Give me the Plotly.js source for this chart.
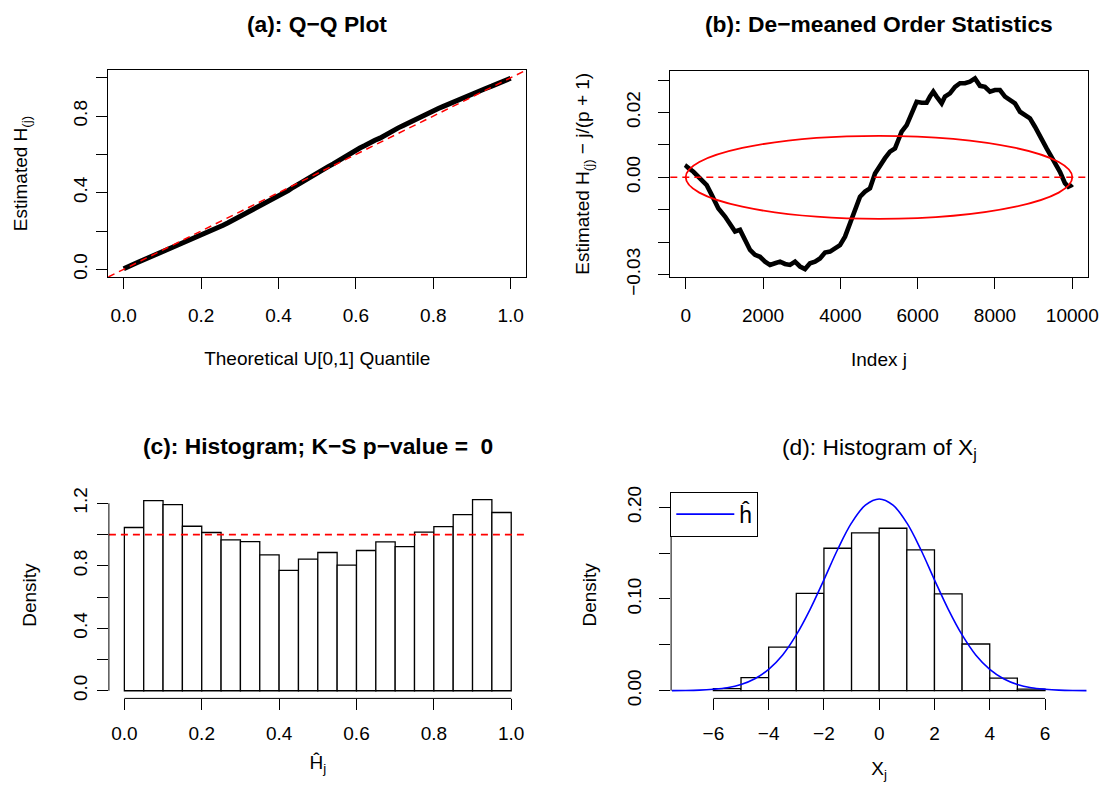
<!DOCTYPE html>
<html>
<head>
<meta charset="utf-8">
<script src="https://cdn.plot.ly/plotly-3.0.1.min.js"></script>
<style>html,body{margin:0;padding:0;background:#fff;}#chart{width:1100px;height:786px;}</style>
</head>
<body>
<div id="chart"></div>
<script>
// ---------------- data ----------------
// number of order statistics
const p = 9999;
// (b) index j and de-meaned order statistic H_(j) - j/(p+1)
const orderIndex = [1, 26, 198, 370, 543, 672, 845, 1017, 1147, 1276, 1405, 1534, 1664, 1793, 1922, 2052, 2181, 2310, 2440, 2569, 2698, 2828, 2957, 3086, 3216, 3345, 3474, 3603, 3733, 3862, 3991, 4121, 4250, 4379, 4509, 4638, 4767, 4897, 5026, 5155, 5284, 5414, 5500, 5586, 5716, 5845, 5974, 6103, 6233, 6319, 6405, 6491, 6621, 6707, 6836, 6966, 7095, 7224, 7353, 7483, 7612, 7741, 7871, 8000, 8129, 8259, 8388, 8517, 8647, 8776, 8905, 9034, 9164, 9336, 9509, 9681, 9810, 9897, 9983, 9999];
const demeaned = [0.0028, 0.0033, 0.0017, -0.0003, -0.0024, -0.0054, -0.0096, -0.0121, -0.0142, -0.0167, -0.0162, -0.0193, -0.0224, -0.0239, -0.0245, -0.0260, -0.0270, -0.0265, -0.0260, -0.0267, -0.0270, -0.0260, -0.0275, -0.0283, -0.0265, -0.0260, -0.0250, -0.0232, -0.0229, -0.0219, -0.0209, -0.0183, -0.0142, -0.0096, -0.0060, -0.0044, -0.0034, 0.0012, 0.0038, 0.0059, 0.0079, 0.0089, 0.0115, 0.0141, 0.0161, 0.0197, 0.0233, 0.0230, 0.0230, 0.0249, 0.0264, 0.0249, 0.0228, 0.0249, 0.0259, 0.0279, 0.0290, 0.0290, 0.0295, 0.0305, 0.0282, 0.0279, 0.0264, 0.0269, 0.0269, 0.0249, 0.0238, 0.0228, 0.0202, 0.0192, 0.0182, 0.0156, 0.0130, 0.0089, 0.0053, 0.0017, -0.0018, -0.0029, -0.0024, -0.0022];
// (b) reference ellipse: centre and half-widths
const ellipseCenter = [5000, 0];
const ellipseRadii = [5000, 0.0128];
// (c) histogram of H_hat_j
const hBinMids = [0.025, 0.075, 0.125, 0.175, 0.225, 0.275, 0.325, 0.375, 0.425, 0.475, 0.525, 0.575, 0.625, 0.675, 0.725, 0.775, 0.825, 0.875, 0.925, 0.975];
const hDensity = [1.045, 1.217, 1.192, 1.053, 1.013, 0.966, 0.955, 0.870, 0.770, 0.842, 0.885, 0.804, 0.898, 0.953, 0.923, 1.015, 1.051, 1.128, 1.224, 1.141];
const uniformDensity = 1;
// (d) histogram of X_j
const xBinMids = [-5.5, -4.5, -3.5, -2.5, -1.5, -0.5, 0.5, 1.5, 2.5, 3.5, 4.5, 5.5];
const xDensity = [0.0022, 0.0142, 0.0476, 0.1062, 0.1553, 0.1720, 0.1771, 0.1535, 0.1055, 0.0509, 0.0138, 0.0018];
// (d) estimated density h_hat
const hHatX = [-7.5, -7, -6.5, -6, -5.5, -5, -4.5, -4, -3.5, -3, -2.5, -2, -1.5, -1, -0.5, 0, 0.5, 1, 1.5, 2, 2.5, 3, 3.5, 4, 4.5, 5, 5.5, 6, 6.5, 7, 7.5];
const hHatY = [0.0001, 0.0002, 0.0006, 0.0016, 0.0033, 0.0068, 0.0131, 0.0233, 0.0387, 0.0608, 0.0887, 0.1209, 0.1542, 0.1829, 0.2022, 0.2090, 0.2022, 0.1829, 0.1542, 0.1209, 0.0887, 0.0608, 0.0387, 0.0233, 0.0131, 0.0068, 0.0033, 0.0016, 0.0006, 0.0002, 0.0001];
// tick positions and labels (labelled major ticks, unlabelled minor ticks)
const unitTicks = [0, 0.2, 0.4, 0.6, 0.8, 1.0];
const unitTickText = ['0.0', '0.2', '0.4', '0.6', '0.8', '1.0'];
const qqYTicks = [0, 0.4, 0.8];
const qqYTickText = ['0.0', '0.4', '0.8'];
const qqYMinor = [0.2, 0.6, 1.0];
const indexTicks = [0, 2000, 4000, 6000, 8000, 10000];
const devTicks = [-0.03, 0, 0.02];
const devTickText = ['\u22120.03', '0.00', '0.02'];
const devMinor = [-0.02, -0.01, 0.01, 0.03];
const densTicks = [0, 0.4, 0.8, 1.2];
const densTickText = ['0.0', '0.4', '0.8', '1.2'];
const densMinor = [0.2, 0.6, 1.0];
const xjTicks = [-6, -4, -2, 0, 2, 4, 6];
const xjDensTicks = [0, 0.10, 0.20];
const xjDensTickText = ['0.00', '0.10', '0.20'];
const xjDensMinor = [0.05, 0.15];

// ---------------- derived ----------------
const theoQuantile = orderIndex.map(j => j / (p + 1));
const estH = orderIndex.map((j, i) => j / (p + 1) + demeaned[i]);

// ---------------- figure ----------------
const W = 1100, H = 786;
const FONT = 'Liberation Sans, Arial, Helvetica, sans-serif';
const TICK = 19, TITLE = 22.8;
const px = v => v / W;
const py = v => 1 - v / H;

const traces = [
  {x: theoQuantile, y: estH, type: 'scatter', mode: 'lines', xaxis: 'x', yaxis: 'y',
   line: {color: 'black', width: 5}, showlegend: false, hoverinfo: 'skip'},
  {x: orderIndex, y: demeaned, type: 'scatter', mode: 'lines', xaxis: 'x2', yaxis: 'y2',
   line: {color: 'black', width: 4.6}, showlegend: false, hoverinfo: 'skip'},
  {x: hBinMids, y: hDensity, type: 'bar', width: 0.05, xaxis: 'x3', yaxis: 'y3',
   marker: {color: 'white', line: {color: 'black', width: 1.3}}, showlegend: false, hoverinfo: 'skip'},
  {x: xBinMids, y: xDensity, type: 'bar', width: 1, xaxis: 'x4', yaxis: 'y4',
   marker: {color: 'white', line: {color: 'black', width: 1.3}}, showlegend: false, hoverinfo: 'skip'},
  {x: hHatX, y: hHatY, type: 'scatter', mode: 'lines', xaxis: 'x4', yaxis: 'y4',
   line: {color: '#0000FF', width: 1.6, shape: 'spline'}, name: '\u0125', showlegend: true, hoverinfo: 'skip'}
];

function ax(extra, titleText, standoff, minorVals) {
  const a = Object.assign({
    showgrid: false, zeroline: false, ticks: 'outside', ticklen: 11, tickwidth: 1,
    tickcolor: 'black', tickfont: {family: FONT, size: TICK, color: 'black'},
    linecolor: 'black', linewidth: 1, fixedrange: true, tickmode: 'array', automargin: false,
    title: {text: titleText, standoff: standoff, font: {family: FONT, size: TICK, color: 'black'}}
  }, extra);
  if (minorVals) {
    a.minor = {tickmode: 'array', tickvals: minorVals, ticks: 'outside', ticklen: 11,
      tickwidth: 1, tickcolor: 'black', showgrid: false};
  }
  return a;
}

const layout = {
  width: W, height: H,
  margin: {l: 0, r: 0, t: 0, b: 0},
  paper_bgcolor: 'white', plot_bgcolor: 'white',
  font: {family: FONT, size: TICK, color: 'black'},
  bargap: 0,
  xaxis: ax({domain: [px(108.2), px(526.2)], range: [-0.04, 1.04], anchor: 'y',
    tickvals: unitTicks, ticktext: unitTickText, showline: true, mirror: true, ticklabelstandoff: 10},
    'Theoretical U[0,1] Quantile', 26),
  yaxis: ax({domain: [py(277), py(70.1)], range: [-0.04, 1.04], anchor: 'x',
    tickvals: qqYTicks, ticktext: qqYTickText, tickangle: -90, showline: true, mirror: true, ticklabelstandoff: 2},
    'Estimated H<sub>(j)</sub>', 36, qqYMinor),
  xaxis2: ax({domain: [px(670.3), px(1087.7)], range: [-399, 10399], anchor: 'y2',
    tickvals: indexTicks, ticktext: indexTicks.map(String), showline: true, mirror: true, ticklabelstandoff: 10},
    'Index j', 27),
  yaxis2: ax({domain: [py(276.9), py(70.6)], range: [-0.0307, 0.0329], anchor: 'x2',
    tickvals: devTicks, ticktext: devTickText, tickangle: -90, showline: true, mirror: true, ticklabelstandoff: 11},
    'Estimated H<sub>(j)</sub> \u2212 j/(p + 1)', 28, devMinor),
  xaxis3: ax({domain: [px(108.9), px(526.7)], range: [-0.04, 1.04], anchor: 'y3',
    tickvals: unitTicks, ticktext: unitTickText, showline: false, ticklabelstandoff: 7},
    '\u0124<sub>j</sub>', 12),
  yaxis3: ax({domain: [py(698.4), py(491.9)], range: [-0.049, 1.273], anchor: 'x3',
    tickvals: densTicks, ticktext: densTickText, tickangle: -90, showline: false, ticklabelstandoff: 2},
    'Density', 28, densMinor),
  xaxis4: ax({domain: [px(671.1), px(1087.3)], range: [-7.53, 7.53], anchor: 'y4',
    tickvals: xjTicks, showline: false, ticklabelstandoff: 7},
    'X<sub>j</sub>', 18),
  yaxis4: ax({domain: [py(698.4), py(491.2)], range: [-0.0084, 0.2175], anchor: 'x4',
    tickvals: xjDensTicks, ticktext: xjDensTickText, tickangle: -90, showline: false, ticklabelstandoff: 11},
    'Density', 21, xjDensMinor),
  legend: {x: px(670.3), y: py(491.7), xanchor: 'left', yanchor: 'top',
    bordercolor: 'black', borderwidth: 1, bgcolor: 'white', itemwidth: 58,
    font: {family: FONT, size: 23, color: 'black'}},
  shapes: [
    // (a) identity line
    {type: 'line', xref: 'x', yref: 'y', x0: -0.04, y0: -0.04, x1: 1.04, y1: 1.04,
     line: {color: '#FF0000', width: 1.5, dash: '7px,5px'}},
    // (b) zero line and ellipse
    {type: 'line', xref: 'x2 domain', yref: 'y2', x0: 0, x1: 1, y0: 0, y1: 0,
     line: {color: '#FF0000', width: 1.5, dash: '7px,5px'}},
    {type: 'circle', xref: 'x2', yref: 'y2',
     x0: ellipseCenter[0] - ellipseRadii[0], x1: ellipseCenter[0] + ellipseRadii[0],
     y0: ellipseCenter[1] - ellipseRadii[1], y1: ellipseCenter[1] + ellipseRadii[1],
     line: {color: '#FF0000', width: 1.8}},
    // (c) uniform density line
    {type: 'line', xref: 'x3 domain', yref: 'y3', x0: 0, x1: 1, y0: uniformDensity, y1: uniformDensity,
     line: {color: '#FF0000', width: 1.8, dash: '7px,5px'}},
    // (c) axis lines spanning tick range
    {type: 'line', xref: 'x3', yref: 'y3 domain', x0: unitTicks[0], x1: unitTicks[unitTicks.length - 1], y0: 0, y1: 0,
     line: {color: 'black', width: 1}},
    {type: 'line', xref: 'x3 domain', yref: 'y3', x0: 0, x1: 0, y0: 0, y1: densTicks[densTicks.length - 1],
     line: {color: 'black', width: 1}},
    // (d) axis lines spanning tick range
    {type: 'line', xref: 'x4', yref: 'y4 domain', x0: xjTicks[0], x1: xjTicks[xjTicks.length - 1], y0: 0, y1: 0,
     line: {color: 'black', width: 1}},
    {type: 'line', xref: 'x4 domain', yref: 'y4', x0: 0, x1: 0, y0: 0, y1: xjDensTicks[xjDensTicks.length - 1],
     line: {color: 'black', width: 1}}
  ],
  annotations: [
    // panel titles
    {text: '<b>(a): Q\u2212Q Plot</b>', x: px(317.2), y: py(24)},
    {text: '<b>(b): De\u2212meaned Order Statistics</b>', x: px(879), y: py(24)},
    {text: '<b>(c): Histogram; K\u2212S p\u2212value =\u00a0 0</b>', x: px(317.8), y: py(446)},
    {text: '(d): Histogram of X<sub>j</sub>', x: px(879), y: py(448)}
  ].map(a => Object.assign({xref: 'paper', yref: 'paper', showarrow: false,
    xanchor: 'center', yanchor: 'middle', font: {family: FONT, size: TITLE, color: 'black'}}, a))
};

Plotly.newPlot('chart', traces, layout, {staticPlot: true, displayModeBar: false});
</script>
</body>
</html>
